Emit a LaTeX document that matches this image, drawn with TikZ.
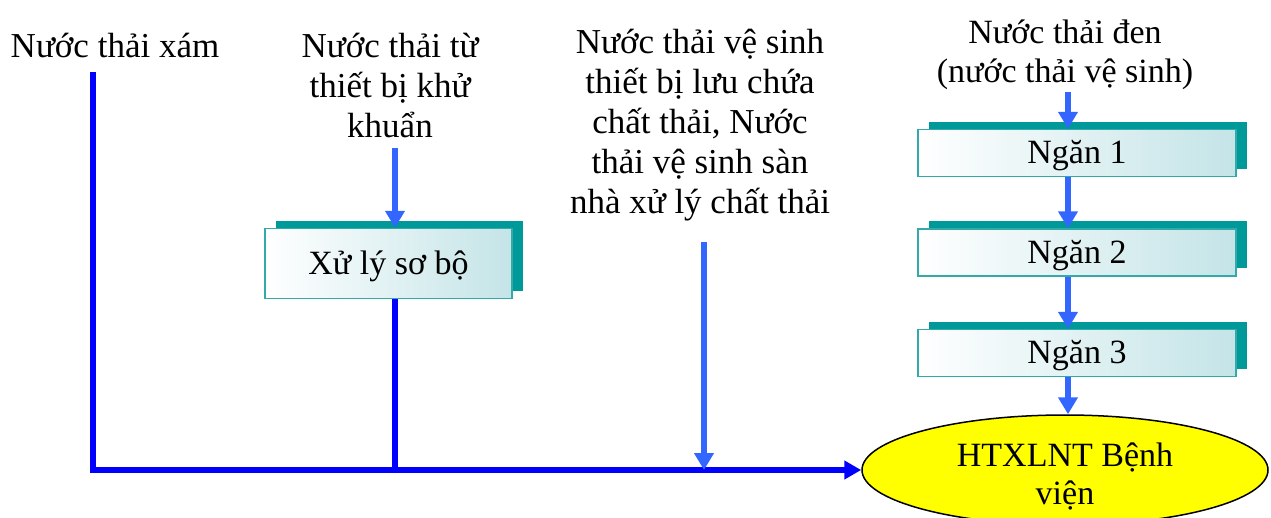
\documentclass[tikz,border=0pt]{standalone}
\usepackage{fontspec}
\setmainfont{Liberation Serif}
\usetikzlibrary{arrows.meta,shapes.geometric,shadows}
\definecolor{dblue}{RGB}{0,0,255}
\definecolor{lblue}{RGB}{51,102,255}
\definecolor{tealshadow}{RGB}{0,153,153}
\definecolor{boxedge}{RGB}{51,170,170}
\definecolor{boxlight}{RGB}{196,228,231}
\definecolor{yell}{RGB}{255,255,0}
\begin{document}
\begin{tikzpicture}[x=1pt,y=-1pt,
  txt/.style={font=\fontsize{35}{40}\selectfont, align=center, inner sep=0pt},
  stagebox/.style={draw=boxedge, line width=1.5pt, left color=white, right color=boxlight,
    font=\fontsize{34}{40}\selectfont, inner sep=0pt, text depth=2pt,
    drop shadow={shadow xshift=11pt, shadow yshift=8pt, fill=tealshadow, opacity=1}},
  dline/.style={draw=dblue, line width=5.5pt},
  darrow/.style={dline, -{Triangle[length=17pt,width=18pt]}},
  larrow/.style={draw=lblue, line width=6pt, -{Triangle[length=17pt,width=19pt]}},
  target/.style={ellipse, draw=black, line width=1.5pt, fill=yell, minimum width=406pt,
    minimum height=110pt, inner sep=0pt},
  targettext/.style={align=center, inner sep=0pt, font=\fontsize{34}{38}\selectfont}
]
\useasboundingbox (0,0) rectangle (1271,517);

% texts
\node[txt] (t1) at (115,45) {Nước thải xám};
\node[txt] (t2) at (390,85) {Nước thải từ\\thiết bị khử\\khuẩn};
\node[txt] (t3) at (700,125) {Nước thải vệ sinh\\thiết bị lưu chứa\\chất thải, Nước\\thải vệ sinh sàn\\nhà xử lý chất thải};
\node[txt, font=\fontsize{34}{39}\selectfont] (t4) at (1065,55) {Nước thải đen\\(nước thải vệ sinh)};

% boxes
\node[stagebox, minimum width=247pt, minimum height=70pt] (xl) at (388.5,263.5) {Xử lý sơ bộ};
\node[stagebox, minimum width=318pt, minimum height=47pt] (n1) at (1077,153) {Ngăn 1};
\node[stagebox, minimum width=318pt, minimum height=47pt] (n2) at (1077,252.5) {Ngăn 2};
\node[stagebox, minimum width=318pt, minimum height=47pt] (n3) at (1077,353) {Ngăn 3};

% target
\node[target] (ell) at (1065,470) {};
\node[targettext] (ellt) at (1065,476) {HTXLNT Bệnh\\viện};

% connectors
\coordinate (g) at (93,72);
\draw[darrow] (g) |- (ell.west);
\coordinate (b) at (395,299);
\draw[dline] (b) -- (b |- ell.west);
\coordinate (a2) at (395,148);
\draw[larrow] (a2) -- (a2 |- xl.north);
\coordinate (a3) at (704,242);
\draw[larrow] (a3) -- (a3 |- ell.west);
\coordinate (a4) at (1068,92);
\draw[larrow] (a4) -- (a4 |- n1.north);
\draw[larrow] (a4 |- n1.south) -- (a4 |- n2.north);
\draw[larrow] (a4 |- n2.south) -- (a4 |- n3.north);
\draw[larrow] (a4 |- n3.south) -- (a4 |- ell.north);
\end{tikzpicture}
\end{document}
